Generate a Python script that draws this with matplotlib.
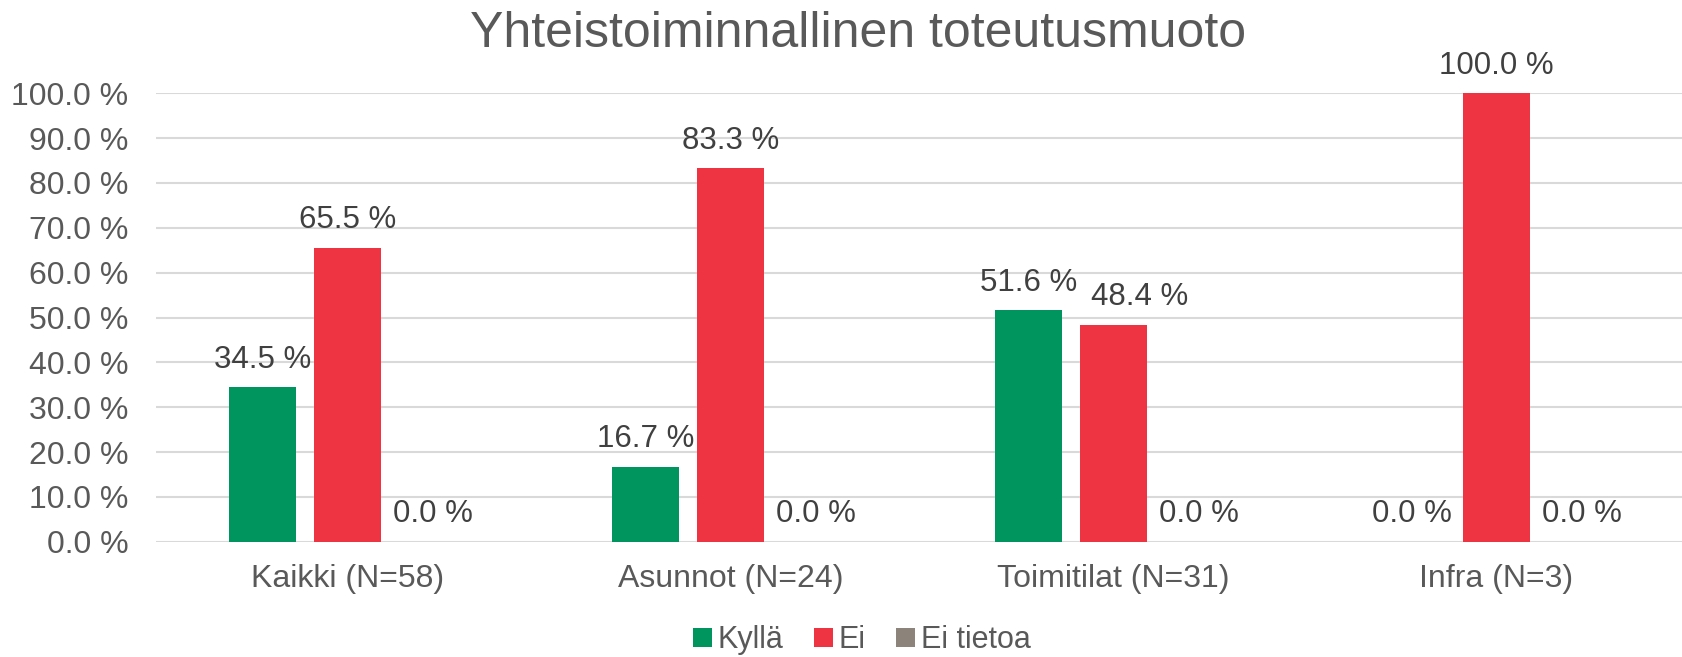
import matplotlib.pyplot as plt
import numpy as np

plt.rcParams['font.family'] = ['Liberation Sans', 'DejaVu Sans']

categories = ['Kaikki (N=58)', 'Asunnot (N=24)', 'Toimitilat (N=31)', 'Infra (N=3)']
series_names = ['Kyllä', 'Ei', 'Ei tietoa']
kylla = [34.5, 16.7, 51.6, 0.0]
ei = [65.5, 83.3, 48.4, 100.0]
ei_tietoa = [0.0, 0.0, 0.0, 0.0]
colors = ['#00955E', '#EE3342', '#8C847A']

fig = plt.figure(figsize=(16.82, 6.57), dpi=100)
ax = fig.add_axes([156 / 1682, 1 - 541.7 / 657, 1 - 156 / 1682, (541.7 - 93.3) / 657])

x = np.arange(len(categories))
width = 0.175
step = 0.222
labels = []
for i, (vals, name) in enumerate(zip([kylla, ei, ei_tietoa], series_names)):
    bars = ax.bar(x + (i - 1) * step, vals, width, color=colors[i], label=name, zorder=2)
    labels.append(ax.bar_label(bars, labels=['%.1f %%' % v for v in vals], padding=9,
                               fontsize=22.5, color='#404040'))

# the 48.4 % label sits moved to the right in the original
labels[1][2].xyann = (19, 9)

ax.set_ylim(0, 100)
ax.set_xlim(-0.5, 3.5 - 6 / 383)
ax.set_yticks(np.arange(0, 101, 10))
ax.set_yticklabels(['%.1f %%' % v for v in np.arange(0, 101, 10)])
ax.set_xticks(x)
ax.set_xticklabels(categories)
ax.tick_params(axis='both', length=0, labelsize=23, labelcolor='#595959')
ax.tick_params(axis='y', pad=20)
ax.tick_params(axis='x', pad=16)
ax.yaxis.grid(True, color='#D9D9D9', linewidth=1.5, zorder=0)
ax.set_axisbelow(True)
for s in ax.spines.values():
    s.set_visible(False)

fig.text(858 / 1682, 1 - 11 / 657, 'Yhteistoiminnallinen toteutusmuoto', ha='center', va='top',
         fontsize=36, color='#595959')

fig.legend(loc='center', bbox_to_anchor=(862 / 1682, 17 / 657), ncol=3, frameon=False,
           fontsize=22, labelcolor='#595959', handlelength=0.6, handleheight=0.6,
           handletextpad=0.2, columnspacing=1.0)

fig.savefig('out.png', dpi=100)
